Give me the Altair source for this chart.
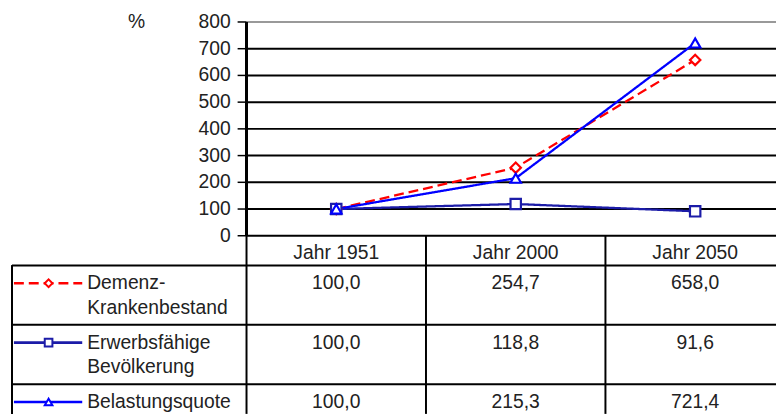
import altair as alt
import pandas as pd

# ---- data ----
years = ["Jahr 1951", "Jahr 2000", "Jahr 2050"]
series = ["Demenz-Krankenbestand", "Erwerbsfähige Bevölkerung", "Belastungsquote"]
label_lines = [["Demenz-", "Krankenbestand"], ["Erwerbsfähige", "Bevölkerung"], ["Belastungsquote"]]
demenz = [100.0, 254.7, 658.0]
erwerb = [100.0, 118.8, 91.6]
belast = [100.0, 215.3, 721.4]
y_ticks = [0, 100, 200, 300, 400, 500, 600, 700, 800]
unit_label = "%"

colors = ["#FF0000", "#1C1CA8", "#0000FF"]
dashes = [[10, 5], [1, 0], [1, 0]]
shapes = ["diamond", "square", "triangle-up"]
FONT = "Liberation Sans"
FS = 19.5

# ---- tables built from the arrays ----
vals = [demenz, erwerb, belast]
rows = []
for s, v in zip(series, vals):
    for y, val in zip(years, v):
        rows.append({"series": s, "year": y, "value": val})
df = pd.DataFrame(rows)

tops = []
t = 1
for ln in label_lines:
    tops.append(t)
    t += len(ln)
total_units = t
top_map = dict(zip(series, tops))
df["top"] = df["series"].map(top_map)
df["label"] = df["value"].map(lambda v: f"{v:.1f}".replace(".", ","))

df_series = pd.DataFrame({"series": series, "lines": label_lines, "top": tops})
df_series["sym"] = df_series["top"] + 0.6
df_years = pd.DataFrame({"year": years, "top": [0] * len(years)})
df_ticks = pd.DataFrame({"tick": y_ticks})
df_hlines = pd.DataFrame({"b": tops})
df_unit = pd.DataFrame({"u": [unit_label], "at": [max(y_ticks)]})

# ---- scales ----
xs = alt.Scale(type="band", domain=years, range=[237, 781], paddingInner=0, paddingOuter=0)
vs = alt.Scale(domain=[0, 800], range=[216, 0], nice=False, zero=False)
ts = alt.Scale(domain=[0, total_units], range=[216, 396], nice=False, zero=False)
cs = alt.Scale(domain=series, range=colors)
ds = alt.Scale(domain=series, range=dashes)
ss = alt.Scale(domain=series, range=shapes)

Xc = alt.X("year:N", scale=xs, axis=None, bandPosition=0.5)
Yv = alt.Y("tick:Q", scale=vs, axis=None)

grid = alt.Chart(df_ticks).mark_rule(strokeWidth=2).encode(
    y=Yv, x=alt.value(237), x2=alt.value(772),
    color=alt.condition("datum.tick >= 800", alt.value("#999999"), alt.value("black")),
)
ticks = alt.Chart(df_ticks).mark_rule(strokeWidth=1.5, color="black").encode(
    y=Yv, x=alt.value(228), x2=alt.value(237),
)
ticklab = alt.Chart(df_ticks).mark_text(font=FONT, fontSize=FS, color="#222", align="right",
                                        baseline="middle").encode(
    y=Yv, x=alt.value(221), text="tick:Q",
)
yline = alt.Chart(df_ticks).mark_rule(strokeWidth=2, color="black").encode(
    x=alt.value(237),
    y=alt.Y(datum=0, scale=vs, axis=None), y2=alt.Y2(datum=800),
)
unit = alt.Chart(df_unit).mark_text(font=FONT, fontSize=FS, color="#222", align="center",
                                    baseline="middle").encode(
    x=alt.value(126), y=alt.Y("at:Q", scale=vs, axis=None), text="u:N",
)

lines = alt.Chart(df).mark_line(strokeWidth=2.3).encode(
    x=Xc,
    y=alt.Y("value:Q", scale=vs, axis=None),
    stroke=alt.Stroke("series:N", scale=cs, legend=None),
    strokeDash=alt.StrokeDash("series:N", scale=ds, legend=None),
    detail="series:N",
)

points = alt.Chart(df).mark_point(filled=True, fill="white", strokeWidth=2.2, size=110, opacity=1).encode(
    x=Xc,
    y=alt.Y("value:Q", scale=vs, axis=None),
    stroke=alt.Stroke("series:N", scale=cs, legend=None),
    shape=alt.Shape("series:N", scale=ss, legend=None),
)

plot = alt.layer(grid, ticks, ticklab, yline, unit, lines, points)

# ---- table ----
hl = alt.Chart(df_hlines).mark_rule(strokeWidth=2, color="black").encode(
    y=alt.Y("b:Q", scale=ts, axis=None), x=alt.value(0), x2=alt.value(772)
)
vl = alt.Chart(df_years).mark_rule(strokeWidth=2, color="black").encode(
    x=alt.X("year:N", scale=xs, axis=None, bandPosition=0),
    y=alt.Y(datum=0, scale=ts, axis=None), y2=alt.Y2(datum=total_units),
)
left = alt.Chart(df_hlines).mark_rule(strokeWidth=2, color="black").encode(
    x=alt.value(0),
    y=alt.Y(datum=1, scale=ts, axis=None), y2=alt.Y2(datum=total_units),
)
head = alt.Chart(df_years).mark_text(font=FONT, fontSize=FS, color="#222", baseline="top", dy=8).encode(
    x=Xc, y=alt.Y("top:Q", scale=ts, axis=None), text="year:N"
)
valtxt = alt.Chart(df).mark_text(font=FONT, fontSize=FS, color="#222", baseline="top", dy=9).encode(
    x=Xc, y=alt.Y("top:Q", scale=ts, axis=None), text="label:N"
)
labtxt = alt.Chart(df_series).mark_text(font=FONT, fontSize=FS, color="#222", baseline="top", dy=9,
                                        align="left", lineHeight=25).encode(
    x=alt.value(76), y=alt.Y("top:Q", scale=ts, axis=None), text="lines"
)
symline = alt.Chart(df_series).mark_rule(strokeWidth=2.6).encode(
    x=alt.value(2), x2=alt.value(71),
    y=alt.Y("sym:Q", scale=ts, axis=None),
    stroke=alt.Stroke("series:N", scale=cs, legend=None),
    strokeDash=alt.StrokeDash("series:N", scale=ds, legend=None),
)
sympt = alt.Chart(df_series).mark_point(filled=True, fill="white", strokeWidth=2, size=60, opacity=1).encode(
    x=alt.value(37),
    y=alt.Y("sym:Q", scale=ts, axis=None),
    stroke=alt.Stroke("series:N", scale=cs, legend=None),
    shape=alt.Shape("series:N", scale=ss, legend=None),
)

table = alt.layer(hl, vl, left, head, valtxt, labtxt, symline, sympt)

chart = alt.layer(plot, table).resolve_scale(y="independent").properties(
    width=772, height=396,
    autosize=alt.AutoSizeParams(type="none"),
    padding={"left": 4, "top": 12, "right": 0, "bottom": 0},
    background="white",
).configure_view(stroke=None)

chart.save("out.html", embed_options={"renderer": "svg", "actions": False})
